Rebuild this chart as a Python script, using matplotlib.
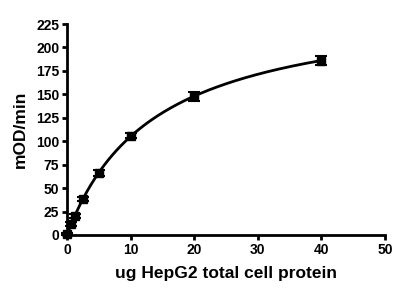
import numpy as np
import matplotlib
matplotlib.use("Agg")
import matplotlib.pyplot as plt

# data
protein_ug = [0, 0.625, 1.25, 2.5, 5, 10, 20, 40]
mod_min = [1, 12, 20, 38, 66, 106, 148, 186]
sem = [1, 2, 2, 2, 3, 3, 5, 5]

x_ticks = [0, 10, 20, 30, 40, 50]
y_ticks = [0, 25, 50, 75, 100, 125, 150, 175, 200, 225]

plt.rcParams['font.family'] = ['Liberation Sans', 'DejaVu Sans']
plt.rcParams['font.weight'] = 'bold'


def fit_mm(x, y):
    """Michaelis-Menten fit: grid over Km, closed-form Vmax."""
    x = np.asarray(x, float)
    y = np.asarray(y, float)
    best = None
    for km in np.linspace(1, 50, 2000):
        g = x / (km + x)
        vmax = (g @ y) / (g @ g)
        err = np.sum((y - vmax * g) ** 2)
        if best is None or err < best[0]:
            best = (err, vmax, km)
    return best[1], best[2]


vmax, km = fit_mm(protein_ug, mod_min)
xs = np.linspace(0, max(protein_ug), 300)

fig = plt.figure(figsize=(4, 2.97), dpi=100)
ax = fig.add_axes([0.1675, 0.2088, 0.795, 0.7102])

ax.plot(xs, vmax * xs / (km + xs), color='black', lw=2)
ax.errorbar(protein_ug, mod_min, yerr=sem, fmt='s', color='black', ms=6,
            capsize=4, elinewidth=1.5, capthick=1.5, clip_on=False)

ax.set_xlim(0, 50)
ax.set_ylim(0, 225)
ax.set_xticks(x_ticks)
ax.set_yticks(y_ticks)
for s in ['top', 'right']:
    ax.spines[s].set_visible(False)
for s in ['left', 'bottom']:
    ax.spines[s].set_linewidth(2)
ax.tick_params(width=2, length=3.5, labelsize=10, pad=2)
for lbl in ax.get_xticklabels() + ax.get_yticklabels():
    lbl.set_fontweight('bold')
ax.set_xlabel('ug HepG2 total cell protein', fontsize=12.5, fontweight='bold',
              labelpad=7)
ax.set_ylabel('mOD/min', fontsize=12.5, fontweight='bold', labelpad=6)

fig.savefig('out.png', dpi=100)
